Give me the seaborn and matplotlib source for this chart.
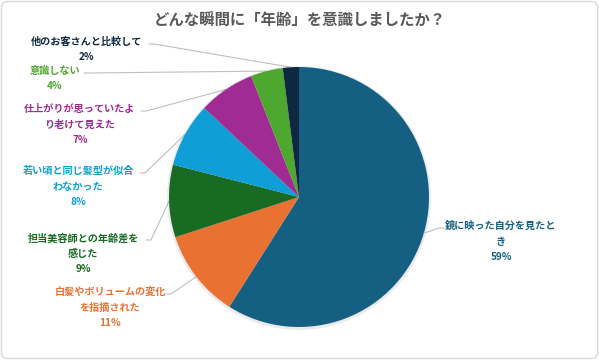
import numpy as np
import matplotlib
matplotlib.use("Agg")
import matplotlib.pyplot as plt
import seaborn as sns
from matplotlib.patches import FancyBboxPatch

# data
labels = ["鏡に映った自分を見たと\nき", "白髪やボリュームの変化\nを指摘された", "担当美容師との年齢差を\n感じた",
          "若い頃と同じ髪型が似合\nわなかった", "仕上がりが思っていたよ\nり老けて見えた", "意識しない", "他のお客さんと比較して"]
shares = [59, 11, 9, 8, 7, 4, 2]
colors = ["#156082", "#E97132", "#196B24", "#0F9ED5", "#A02B93", "#4EA72E", "#0E2841"]
title = "どんな瞬間に「年齢」を意識しましたか？"

# layout (pixel coords from top-left): label center x, top line y, leader start x
label_pos = [(501, 226, 444), (110, 292, 166), (83, 238, 146), (78, 171, 140),
             (80, 109, 141), (55, 71, 84), (87, 42, 149)]

sns.set_theme(style="white")
plt.rcParams['font.family'] = ['Noto Sans CJK JP', 'DejaVu Sans']

W, H = 599, 360
fig = plt.figure(figsize=(W / 100, H / 100), dpi=100)
ax = fig.add_axes([0, 0, 1, 1])
ax.set_xlim(0, W)
ax.set_ylim(0, H)
ax.set_aspect("equal")
ax.axis("off")

cx, cy, r = 299, H - 197, 130
# faint shadow ring
ax.add_patch(plt.Circle((cx, cy - 1), r + 2, color="#000000", alpha=0.08, lw=0))
wedges, _ = ax.pie(shares, colors=colors, startangle=90, counterclock=False,
                   center=(cx, cy), radius=r, frame=True,
                   wedgeprops=dict(linewidth=0))
ax.set_xlim(0, W)
ax.set_ylim(0, H)
ax.axis("off")

for w, lab, val, col, (lx, ly, sx) in zip(wedges, labels, shares, colors, label_pos):
    mid = np.deg2rad((w.theta1 + w.theta2) / 2)
    ex, ey = cx + r * np.cos(mid), cy + r * np.sin(mid)
    lines = lab.split("\n")
    y = ly
    for ln in lines:
        ax.text(lx, H - y, ln, ha="center", va="center", fontsize=7.3,
                fontweight="bold", color=col)
        y += 16
    ax.text(lx, H - y + 1, f"{val}%", ha="center", va="center", fontsize=7.2,
            fontweight="bold", color=col)
    sy = H - ly - 2
    step = 5 if sx < cx else -5
    ax.plot([sx, sx + step, ex], [sy, sy, ey], color="#bfbfbf", lw=0.8,
            zorder=0.5 if sx < cx else 3)

ax.text(W / 2, H - 20, title, ha="center", va="center", fontsize=11.1,
        fontweight="bold", color="#595959")

fig.patches.append(FancyBboxPatch((1.5, 1.5), W - 3, H - 3, boxstyle="round,pad=0,rounding_size=6",
                                  transform=None, fill=False, edgecolor="#d9d9d9", lw=1))

fig.savefig("out.png", dpi=100, facecolor="white")
